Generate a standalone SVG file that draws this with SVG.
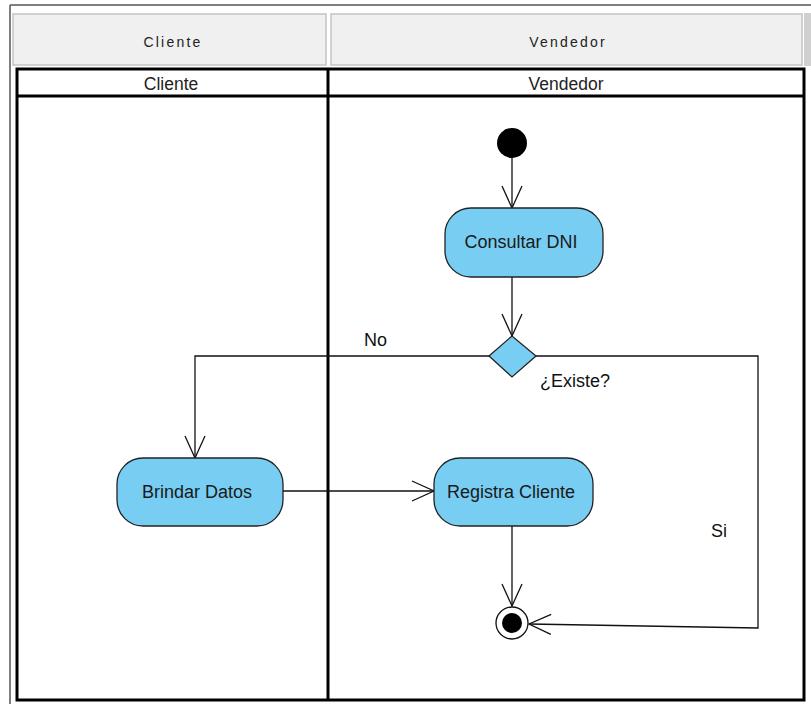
<svg xmlns="http://www.w3.org/2000/svg" width="811" height="704" viewBox="0 0 811 704">
<defs>
<style>
.hdr{fill:#f0f0f0;stroke:#c4c4c4;stroke-width:1.5}
.htxt{font-family:"Liberation Sans",Arial,sans-serif;font-size:14px;letter-spacing:2.2px;fill:#222;text-anchor:middle}
.ltxt{font-family:"Liberation Sans",Arial,sans-serif;font-size:17.5px;fill:#222;text-anchor:middle}
.node{fill:#78cdf2;stroke:#222;stroke-width:1.3}
.ntxt{font-family:"Liberation Sans",Arial,sans-serif;font-size:18px;fill:#1a1a1a;text-anchor:middle}
.lane{fill:none;stroke:#000;stroke-width:3}
.edge{fill:none;stroke:#111;stroke-width:1.3}
.lbl{font-family:"Liberation Sans",Arial,sans-serif;font-size:18px;fill:#111}
</style>
<marker id="arr" viewBox="0 0 24 22" refX="23" refY="11" markerWidth="24" markerHeight="22" markerUnits="userSpaceOnUse" orient="auto">
<path d="M1,1 L23,11 L1,21" fill="none" stroke="#111" stroke-width="1.3"/>
</marker>
</defs>
<rect x="0" y="0" width="811" height="704" fill="#fff"/>
<g id="frame">
<line x1="10" y1="5" x2="811" y2="5" stroke="#555" stroke-width="1.5"/>
<line x1="10" y1="5" x2="10" y2="704" stroke="#555" stroke-width="1.5"/>
<rect x="804" y="13" width="7" height="53" fill="#d0d0d0"/>
</g>
<g id="table-header">
<rect class="hdr" x="13" y="14" width="313" height="51"/>
<rect class="hdr" x="331" y="14" width="471" height="51"/>
<text class="htxt" x="173" y="47">Cliente</text>
<text class="htxt" x="568" y="47">Vendedor</text>
</g>
<g id="lanes">
<rect class="lane" x="17" y="69" width="787" height="631"/>
<line class="lane" x1="17" y1="96" x2="804" y2="96"/>
<line class="lane" x1="328" y1="69" x2="328" y2="700"/>
<text class="ltxt" x="171" y="90">Cliente</text>
<text class="ltxt" x="566" y="90">Vendedor</text>
</g>
<g id="connectors">
<line class="edge" x1="512" y1="158" x2="512" y2="208" marker-end="url(#arr)"/>
<line class="edge" x1="512" y1="277" x2="512" y2="336" marker-end="url(#arr)"/>
<polyline class="edge" points="489,356 195,356 195,458" marker-end="url(#arr)"/>
<line class="edge" x1="283" y1="491" x2="434" y2="491" marker-end="url(#arr)"/>
<line class="edge" x1="512" y1="526" x2="512" y2="606" marker-end="url(#arr)"/>
<polyline class="edge" points="536,356 758,356 758,628 529,624" marker-end="url(#arr)"/>
<text class="lbl" x="364" y="346">No</text>
<text class="lbl" x="540" y="387">¿Existe?</text>
<text class="lbl" x="711" y="537">Si</text>
</g>
<g id="start">
<circle cx="512" cy="143" r="15" fill="#000"/>
</g>
<g id="consultar-dni">
<rect class="node" x="445" y="208" width="158" height="69" rx="26"/>
<text class="ntxt" x="521" y="248">Consultar DNI</text>
</g>
<g id="decision">
<polygon class="node" points="489,356 512,336 536,356 512,377"/>
</g>
<g id="brindar-datos">
<rect class="node" x="117" y="458" width="166" height="68" rx="26"/>
<text class="ntxt" x="197" y="498">Brindar Datos</text>
</g>
<g id="registra-cliente">
<rect class="node" x="434" y="458" width="159" height="68" rx="26"/>
<text class="ntxt" x="511" y="498">Registra Cliente</text>
</g>
<g id="end">
<circle cx="512" cy="623" r="16" fill="#fff" stroke="#111" stroke-width="1.3"/>
<circle cx="512" cy="623" r="10" fill="#000"/>
</g>
</svg>
